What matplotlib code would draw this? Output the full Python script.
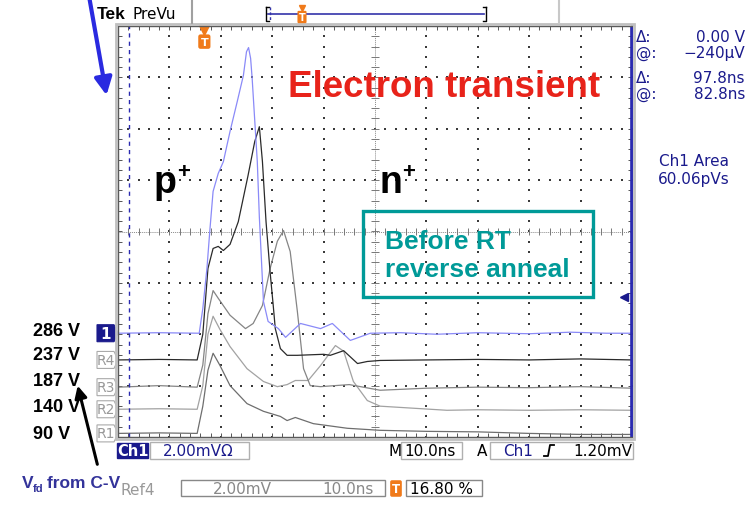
import numpy as np
import matplotlib.pyplot as plt
from matplotlib.patches import Rectangle, Polygon
from matplotlib.transforms import blended_transform_factory

# screen units: time in ns (10 ns/div), amplitude in divisions (2 mV/div)
ch1_t = [0, 8, 15.8, 16.5, 17.3, 17.9, 18.5, 19.5, 20.5, 21.8, 23.2, 24.4, 25.0, 25.4, 25.8,
         26.1, 26.5, 27.1, 27.5, 28.3, 29.2, 31.2, 32.6, 35.5, 39.4, 41.7, 45.2, 49.1,
         55, 62, 70, 80, 88, 95, 100]
ch1_v = [-1.98, -1.97, -1.98, -1.5, -0.72, 0.06, 0.78, 1.13, 1.36, 1.95, 2.53, 3.04, 3.5, 3.58, 3.37,
         2.98, 2.33, 1.36, 0.28, -1.36, -1.75, -1.89, -2.06, -1.79, -1.89, -1.79, -2.12, -1.98,
         -1.97, -2.0, -1.97, -1.99, -1.96, -1.98, -1.98]

r4_t = [0, 8, 15.4, 16.5, 17.5, 18.5, 19.5, 20.5, 21.8, 23.4, 25.3, 26.6, 27.5, 28.1, 28.8,
        29.6, 30.2, 30.6, 31.6, 32.9, 34.9, 40.0, 41.3, 43.9, 46.6, 48.5, 51, 60, 70, 80, 90, 100]
r4_v = [-2.5, -2.49, -2.5, -2.0, -0.72, -0.33, -0.29, -0.37, -0.25, 0.19, 1.09, 1.75, 2.04, 1.36, 0.19,
        -0.8, -1.44, -1.89, -2.28, -2.41, -2.41, -2.39, -2.41, -2.32, -2.57, -2.53, -2.51, -2.5, -2.49,
        -2.5, -2.48, -2.5]

r3_t = [0, 8, 15.4, 16.5, 17.5, 18.5, 19.5, 21.8, 24.8, 26.3, 28.1, 29.6, 31.0, 32.2, 33.5,
        34.9, 36.1, 37.4, 39.4, 45, 51, 60, 70, 80, 90, 100]
r3_v = [-3.03, -3.0, -3.03, -2.6, -1.6, -1.15, -1.3, -1.63, -1.89, -1.79, -1.44, -0.72, -0.19, 0.02, -0.39,
        -1.56, -2.67, -3.0, -3.02, -2.98, -3.09, -3.05, -3.03, -3.04, -3.02, -3.05]

r2_t = [0, 8, 15.4, 16.5, 17.5, 18.5, 19.8, 21.8, 25.1, 28.3, 31.0, 32.9, 34.5, 37.0, 39.4,
        42.3, 43.9, 45.8, 48.5, 51, 64, 70, 80, 90, 100]
r2_v = [-3.46, -3.45, -3.46, -3.0, -2.0, -1.65, -1.9, -2.24, -2.67, -2.92, -3.02, -2.98, -2.9, -2.9, -2.61,
        -2.22, -2.33, -2.92, -3.29, -3.4, -3.48, -3.47, -3.48, -3.47, -3.48]

r1_t = [0, 8, 15.4, 16.5, 17.5, 18.5, 19.8, 21.8, 25.1, 28.3, 31.6, 32.9, 34.5, 38, 44.6,
        51, 60, 70, 80, 90, 100]
r1_v = [-3.93, -3.92, -3.93, -3.4, -2.7, -2.37, -2.6, -3.0, -3.35, -3.5, -3.6, -3.68, -3.62, -3.74, -3.83,
        -3.87, -3.89, -3.9, -3.93, -3.95, -3.95]

bias_labels = ['286 V', '237 V', '187 V', '140 V', '90 V']
ref_names = ['1', 'R4', 'R3', 'R2', 'R1']
offsets = [-1.98, -2.50, -3.03, -3.46, -3.93]

trigger_pos = 16.8      # ns, 16.80 % of record
trigger_level = -1.28   # div
cursor1 = 2.1
cursor_delta = 97.8

DARK = '#1a1a8c'
ORANGE = '#f07a1a'
TEAL = '#009a98'

fig = plt.figure(figsize=(7.52, 5.06), dpi=100)
ax = fig.add_axes([118 / 752, 68 / 506, 514 / 752, 411 / 506])
ax.set_xlim(0, 100)
ax.set_ylim(-4, 4)
ax.set_xticks([])
ax.set_yticks([])
for side in ['left', 'top', 'bottom']:
    ax.spines[side].set_color('#5a5a5a')
    ax.spines[side].set_linewidth(1.0)
ax.spines['right'].set_color('#2a2ab0')
ax.spines['right'].set_linewidth(1.4)

# graticule dots
dot_y = np.arange(-4, 4.01, 0.2)
dot_x = np.arange(0, 100.1, 2)
for xv in range(10, 100, 10):
    if xv != 50:
        ax.scatter(np.full(dot_y.size, xv), dot_y, s=1.2, c='#3a3a3a', marker='s', linewidths=0)
for yv in range(-3, 4):
    if yv != 0:
        ax.scatter(dot_x, np.full(dot_x.size, yv), s=1.2, c='#3a3a3a', marker='s', linewidths=0)

# centre crosshair and edge ticks
ax.axhline(0, color='#8a8a8a', lw=0.7, ls=(0, (1, 1)))
ax.axvline(50, color='#8a8a8a', lw=0.7, ls=(0, (1, 1)))
ax.vlines(dot_x, -0.07, 0.07, color='#777777', lw=0.7)
ax.hlines(dot_y, 49.2, 50.8, color='#777777', lw=0.7)
ax.hlines(dot_y, 0, 0.7, color='#555555', lw=0.7)
ax.hlines(dot_y, 99.2, 100, color='#555555', lw=0.7)
ax.vlines(dot_x, 3.93, 4, color='#555555', lw=0.7)
ax.vlines(dot_x, -4, -3.92, color='#555555', lw=0.7)

# traces
ax.plot(r1_t, r1_v, color='#6e6e6e', lw=0.9)
ax.plot(r2_t, r2_v, color='#a2a2a2', lw=0.9)
ax.plot(r3_t, r3_v, color='#858585', lw=0.9)
ax.plot(r4_t, r4_v, color='#2a2a2a', lw=0.9)
ax.plot(ch1_t, ch1_v, color='#8a8af8', lw=0.9)

# cursors
ax.axvline(cursor1, color='#2a2ab0', lw=1.0, ls=(0, (3, 3)))
ax.axvline(cursor1 + cursor_delta, color='#2a2ab0', lw=1.2)

# trigger position and level markers
tx = blended_transform_factory(ax.transData, ax.transAxes)
ax.plot(trigger_pos, 0.99, marker='v', color=ORANGE, ms=7, transform=tx, clip_on=False)
ax.text(trigger_pos, 0.962, 'T', transform=tx, ha='center', va='center', color='white',
        fontsize=8, fontweight='bold',
        bbox=dict(boxstyle='round,pad=0.2', fc=ORANGE, ec='none'))
ax.plot(98.4, trigger_level, marker='<', color=DARK, ms=6, clip_on=False)

# channel / reference offset markers
ty = blended_transform_factory(ax.transAxes, ax.transData)
w = 21 / 514
tip = 4 / 514
h = 8.5 / 51.4
for name, off in zip(ref_names, offsets):
    pts = [(-w, off - h), (-tip, off - h), (0, off), (-tip, off + h), (-w, off + h)]
    if name == '1':
        ax.add_patch(Polygon(pts, closed=True, fc=DARK, ec=DARK, lw=0.8, transform=ty, clip_on=False))
        ax.text(-w / 2 - tip / 2, off, name, transform=ty, ha='center', va='center',
                color='white', fontsize=11, fontweight='bold')
    else:
        ax.add_patch(Polygon(pts, closed=True, fc='white', ec='#aaaaaa', lw=0.8, transform=ty, clip_on=False))
        ax.text(-w / 2 - tip / 2, off, name, transform=ty, ha='center', va='center',
                color='#999999', fontsize=10)

# overlay in pixel coordinates for the screen furniture and annotations
ov = fig.add_axes([0, 0, 1, 1])
ov.set_xlim(0, 752)
ov.set_ylim(506, 0)
ov.axis('off')

ov.add_patch(Rectangle((115.5, 24.5), 518, 415, fill=False, ec='#c0c0c0', lw=2.0))

# top bar
ov.text(97, 14, 'Tek', fontsize=12.5, fontweight='bold', va='center', family='Liberation Sans')
ov.text(133, 14, 'PreVu', fontsize=11, va='center')
ov.plot([192, 192], [0, 24], color='#a0a0a0', lw=1.5)
ov.plot([559, 559], [0, 24], color='#c8c8c8', lw=1.5)
ov.plot([268, 484], [15, 15], color='#3333aa', lw=1.2)
ov.plot([266, 266, 269], [8, 22, 22], color='black', lw=1.0)
ov.plot([266, 269], [8, 8], color='black', lw=1.0)
ov.plot([486, 486, 483], [8, 22, 22], color='black', lw=1.0)
ov.plot([483, 486], [8, 8], color='black', lw=1.0)
ov.plot([270, 270], [8, 22], color='#3333aa', lw=1.0, ls=(0, (2, 1.5)))
ov.plot(302, 9, marker='v', color=ORANGE, ms=5)
ov.text(302, 18, 'T', ha='center', va='center', color='white', fontsize=7, fontweight='bold',
        bbox=dict(boxstyle='round,pad=0.12', fc=ORANGE, ec='none'))

# blue arrow at top left
ov.annotate('', xy=(107, 99), xytext=(89, -3),
            arrowprops=dict(arrowstyle='-|>', color='#2a2ae0', lw=3, mutation_scale=26))

# cursor readouts
rd = dict(color=DARK, fontsize=11, va='center')
ov.text(636, 37, 'Δ:', **rd)
ov.text(745, 37, '0.00 V', ha='right', **rd)
ov.text(636, 53, '@:', **rd)
ov.text(745, 53, '−240µV', ha='right', **rd)
ov.text(636, 78, 'Δ:', **rd)
ov.text(745, 78, '97.8ns', ha='right', **rd)
ov.text(636, 94, '@:', **rd)
ov.text(745, 94, '82.8ns', ha='right', **rd)
ov.text(694, 161, 'Ch1 Area', ha='center', **rd)
ov.text(694, 179, '60.06pVs', ha='center', **rd)

# annotations
arial = 'Liberation Sans'
ov.text(288, 97, 'Electron transient', color='#e8231a', fontsize=26.5, fontweight='bold',
        family=arial, va='baseline')
ov.text(154, 193, 'p', fontsize=27, fontweight='bold', family=arial, va='baseline')
ov.text(177, 178, '+', fontsize=16, fontweight='bold', family=arial, va='baseline')
ov.text(379, 193, 'n', fontsize=27, fontweight='bold', family=arial, va='baseline')
ov.text(402, 178, '+', fontsize=16, fontweight='bold', family=arial, va='baseline')

ov.add_patch(Rectangle((363, 212), 230, 86, fill=False, ec=TEAL, lw=2.4))
ov.text(385, 249, 'Before RT', color=TEAL, fontsize=19, fontweight='bold', family=arial, va='baseline')
ov.text(385, 277, 'reverse anneal', color=TEAL, fontsize=19, fontweight='bold', family=arial, va='baseline')

for lab, y in zip(bias_labels, [331, 355, 381, 408, 435]):
    ov.text(33, y, lab, fontsize=13, fontweight='bold', family=arial, va='center')

ov.annotate('', xy=(77, 384), xytext=(98, 468),
            arrowprops=dict(arrowstyle='-|>', color='black', lw=2.2, mutation_scale=18))
ov.text(22, 488, 'V', color='#33339a', fontsize=12.5, fontweight='bold', family=arial, va='baseline')
ov.text(33, 492, 'fd', color='#33339a', fontsize=8, fontweight='bold', family=arial, va='baseline')
ov.text(47, 488, 'from C-V', color='#33339a', fontsize=12.5, fontweight='bold', family=arial, va='baseline')

# bottom status bar
ov.add_patch(Rectangle((117, 444), 31, 15, fc=DARK, ec=DARK))
ov.text(132.5, 451.5, 'Ch1', color='white', fontsize=10.5, fontweight='bold', ha='center', va='center')
ov.add_patch(Rectangle((150, 443), 99, 17, fill=False, ec='#b0b0b0', lw=1))
ov.text(163, 451.5, '2.00mVΩ', color=DARK, fontsize=11, va='center')
ov.text(388, 451.5, 'M', fontsize=11, va='center')
ov.add_patch(Rectangle((401, 443), 61, 17, fill=False, ec='#b0b0b0', lw=1))
ov.text(404, 451.5, '10.0ns', fontsize=11, va='center')
ov.text(477, 451.5, 'A', fontsize=11, va='center')
ov.add_patch(Rectangle((490, 443), 143, 17, fill=False, ec='#b0b0b0', lw=1))
ov.text(503, 451.5, 'Ch1', color=DARK, fontsize=11, va='center')
ov.plot([544, 548, 550, 554], [457, 457, 446, 446], color='black', lw=1.3)
ov.text(632, 451.5, '1.20mV', fontsize=11, va='center', ha='right')

ov.text(121, 491, 'Ref4', color='#999999', fontsize=11, va='center')
ov.add_patch(Rectangle((181, 481), 204, 16, fill=False, ec='#888888', lw=1))
ov.text(213, 489.5, '2.00mV', color='#888888', fontsize=11, va='center')
ov.text(322, 489.5, '10.0ns', color='#888888', fontsize=11, va='center')
ov.text(396, 489.5, 'T', color='white', fontsize=8.5, fontweight='bold', ha='center', va='center',
        bbox=dict(boxstyle='round,pad=0.15', fc=ORANGE, ec='none'))
ov.add_patch(Rectangle((406, 481), 76, 16, fill=False, ec='#888888', lw=1))
ov.text(410, 489.5, '16.80 %', fontsize=11, va='center')

fig.savefig('out.png', dpi=100)
